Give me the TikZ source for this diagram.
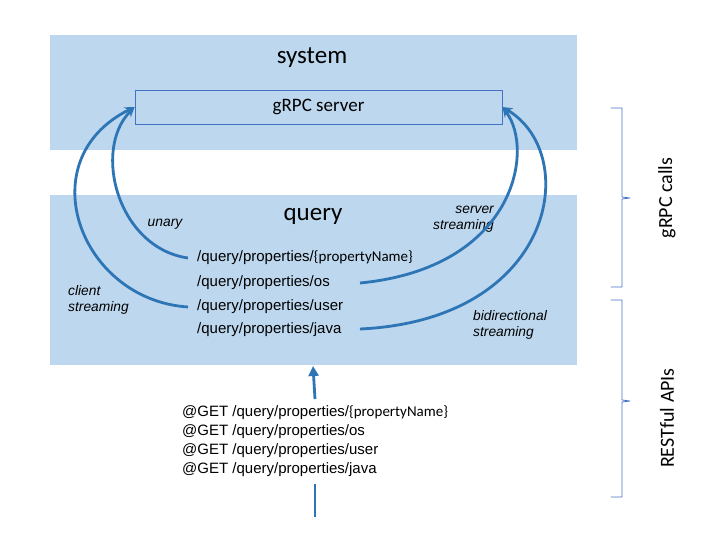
\documentclass[tikz,border=0pt]{standalone}
\usepackage{fontspec}
\setmainfont{Liberation Sans}
\newfontfamily\carl{Carlito}
\usetikzlibrary{arrows.meta}
\definecolor{lb}{HTML}{BDD7EE}
\definecolor{ab}{HTML}{2E75B6}
\definecolor{ob}{HTML}{4472C4}
\begin{document}
\begin{tikzpicture}[x=1pt,y=-1pt,
  panel/.style={fill=lb,draw=none},
  conn/.style={draw=ab,line width=2.8pt,-{Stealth[length=10pt,width=9pt]}},
  plain/.style={draw=ab,line width=2.8pt},
  pathtxt/.style={inner sep=0pt,anchor=west,font=\fontsize{15}{18}\selectfont},
  lbl/.style={inner sep=0pt,font=\fontsize{13.8}{16.5}\itshape},
  brace/.style={draw=ob,line width=0.8pt,line cap=round,line join=round},
  side/.style={rotate=90,inner sep=0pt,font=\carl\fontsize{20}{24}\selectfont}]
\useasboundingbox (0,0) rectangle (720,540);
\fill[white] (0,0) rectangle (720,540);
% panels
\path[panel] (50,35) rectangle (577,150);
\path[panel] (50,195) rectangle (577,365);
\node[font=\carl\fontsize{25}{30}\selectfont] (sys) at (312,58) {system};
\node[draw=ob,fill=lb,line width=0.8pt,minimum width=367pt,minimum height=34pt,inner sep=0pt,font=\carl\fontsize{19}{22}\selectfont] (srv) at (318.5,107) {gRPC server};
\node[font=\carl\fontsize{25}{30}\selectfont] (qry) at (313,216) {query};
% paths
\node[pathtxt] (p1) at (197,258) {/query/properties/{\carl\fontsize{15}{18}\selectfont\{propertyName\}}};
\node[pathtxt] (p2) at (197,283) {/query/properties/os};
\node[pathtxt] (p3) at (197,307) {/query/properties/user};
\node[pathtxt] (p4) at (197,330) {/query/properties/java};
% labels
\node[lbl] (lu) at (165,224) {unary};
\node[lbl,anchor=east,align=right] (ls) at (494,219) {server\\streaming};
\node[lbl,anchor=west,align=left] (lc) at (68,300) {client\\streaming};
\node[lbl,anchor=west,align=left] (lb2) at (473,325) {bidirectional\\streaming};
% connectors
\coordinate (u0) at (188,258);
\coordinate (c0) at (188,307);
\coordinate (s0) at (360,283);
\coordinate (b0) at (360,329);
\draw[conn] (u0) .. controls (118,248) and (92,150) .. (srv.west);
\draw[conn] (c0) .. controls (80,300) and (28,160) .. (srv.west);
\draw[conn] (s0) .. controls (515,268) and (535,150) .. (srv.east);
\draw[conn] (b0) .. controls (555,320) and (582,155) .. (srv.east);
% REST
\node[pathtxt,anchor=west] (g1) at (182,413) {@GET /query/properties/{\carl\fontsize{15}{18}\selectfont\{propertyName\}}};
\node[pathtxt,anchor=west] (g2) at (182,432) {@GET /query/properties/os};
\node[pathtxt,anchor=west] (g3) at (182,451) {@GET /query/properties/user};
\node[pathtxt,anchor=west] (g4) at (182,470) {@GET /query/properties/java};
\coordinate (r1) at (315,399);
\coordinate (r2) at (315,484);
\coordinate (r3) at (315,517);
\draw[draw=ab,line width=2.8pt,-{Triangle[length=10pt,width=10pt]}] (r1) -- (qry.center |- 0,366);
\draw[plain] (r3) -- (r2);
% braces
\coordinate (b1t) at (611,108);
\coordinate (b1m) at (630,198);
\coordinate (b1b) at (611,287);
\draw[brace] (b1t) -- (622,108) -- (622,197) -- (b1m) -- (622,199) -- (622,287) -- (b1b);
\coordinate (b2t) at (611,300);
\coordinate (b2m) at (630,401);
\coordinate (b2b) at (611,497);
\draw[brace] (b2t) -- (622,300) -- (622,400) -- (b2m) -- (622,402) -- (622,497) -- (b2b);
\node[side] (g) at (667,198) {gRPC calls};
\node[side] (r) at (667,418) {RESTful APIs};
\end{tikzpicture}
\end{document}
